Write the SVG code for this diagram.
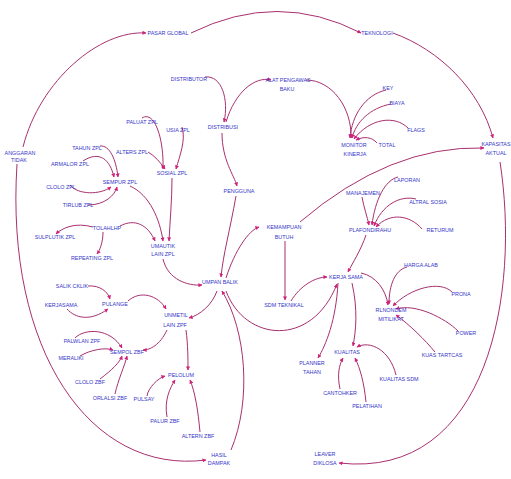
<svg xmlns="http://www.w3.org/2000/svg" width="511" height="479" viewBox="0 0 511 479">
<defs>
<marker id="ah" viewBox="0 0 10 10" refX="9" refY="5" markerWidth="4" markerHeight="4" markerUnits="userSpaceOnUse" orient="auto">
<path d="M0,0 L10,5 L0,10 z" fill="#d0207a"/>
</marker>
</defs>
<style>
.c path{fill:none;stroke:#a8306e;stroke-width:1;marker-end:url(#ah)}
text{font-family:"Liberation Sans",Arial,sans-serif;font-size:5.4px;fill:#3535c8;text-anchor:middle}
</style>
<rect width="511" height="479" fill="#ffffff"/>
<g id="connectors" class="c">
<path d="M23,147 C40,80 100,30 146,33"/>
<path d="M191,33 Q278,-10 361,33"/>
<path d="M393,33 C440,50 480,90 493,138"/>
<path d="M500,162 C520,290 490,480 339,463"/>
<path d="M300,222 Q390,145 484,148"/>
<path d="M17,164 C5,350 90,475 206,460"/>
<path d="M231,450 C252,400 246,330 222,291"/>
<path d="M205,77 C222,75 229,100 224,122"/>
<path d="M226,122 C235,92 255,76 271,80"/>
<path d="M306,80 C332,80 352,108 351,138"/>
<path d="M386,90 C365,95 352,115 350,138"/>
<path d="M391,104 C370,108 356,122 352,138"/>
<path d="M408,128 C395,115 370,118 354,139"/>
<path d="M377,143 C372,137 364,136 356,140"/>
<path d="M222,133 C222,160 234,175 237,186"/>
<path d="M236,196 C230,230 223,255 221,277"/>
<path d="M226,278 C235,250 249,230 259,227"/>
<path d="M163,259 C168,280 188,286 202,285"/>
<path d="M217,291 C212,305 200,315 189,318"/>
<path d="M226,291 C245,342 312,348 337,284"/>
<path d="M285,241 L285,300"/>
<path d="M291,301 C300,286 315,277 327,277"/>
<path d="M366,235 C361,250 352,264 348,272"/>
<path d="M398,177 C385,180 375,200 372,225"/>
<path d="M362,197 C364,208 367,216 369,225"/>
<path d="M416,199 C400,195 382,205 374,226"/>
<path d="M422,229 C410,215 390,212 376,227"/>
<path d="M361,273 C376,276 386,290 388,305"/>
<path d="M407,267 C395,270 389,285 389,304"/>
<path d="M452,292 C440,280 410,288 393,306"/>
<path d="M458,331 C445,318 415,303 396,309"/>
<path d="M435,352 C425,340 410,325 396,315"/>
<path d="M338,283 C336,320 326,345 318,358"/>
<path d="M352,283 C358,310 356,330 353,346"/>
<path d="M396,375 C390,350 370,340 357,347"/>
<path d="M340,389 C337,375 339,365 343,358"/>
<path d="M366,402 C364,382 360,368 355,358"/>
<path d="M142,118 C155,110 164,140 163,169"/>
<path d="M182,127 C186,140 180,155 176,169"/>
<path d="M148,152 C155,156 160,162 165,169"/>
<path d="M100,146 C110,145 116,160 118,177"/>
<path d="M83,161 C100,150 110,160 114,177"/>
<path d="M70,185 C78,195 100,195 111,187"/>
<path d="M88,205 C105,205 115,195 117,187"/>
<path d="M130,186 C150,195 160,220 163,241"/>
<path d="M172,178 C172,200 170,220 169,241"/>
<path d="M120,226 C135,218 148,225 155,241"/>
<path d="M93,227 C75,222 62,228 56,234"/>
<path d="M103,232 C103,242 100,250 97,254"/>
<path d="M88,286 C100,285 108,292 110,299"/>
<path d="M67,309 C75,318 90,322 108,309"/>
<path d="M128,301 C140,290 158,295 166,309"/>
<path d="M167,330 C160,345 150,350 143,350"/>
<path d="M186,330 C188,345 188,360 188,370"/>
<path d="M75,338 C85,328 110,328 122,348"/>
<path d="M80,356 C90,350 105,347 113,350"/>
<path d="M100,379 C112,370 120,362 122,356"/>
<path d="M115,394 C118,380 125,365 127,356"/>
<path d="M147,396 C148,388 158,378 165,376"/>
<path d="M167,417 C164,400 170,388 175,380"/>
<path d="M200,432 C198,410 195,392 190,380"/>
</g>
<g id="n1"><text x="168" y="35">PASAR GLOBAL</text></g>
<g id="n2"><text x="377" y="35">TEKNOLOGI</text></g>
<g id="n3"><text x="20" y="155">ANGGARAN</text><text x="19" y="162">TIDAK</text></g>
<g id="n4"><text x="496" y="146">KAPASITAS</text><text x="496" y="155">AKTUAL</text></g>
<g id="n5"><text x="189" y="81">DISTRIBUTOR</text></g>
<g id="n6"><text x="223" y="129">DISTRIBUSI</text></g>
<g id="n7"><text x="288" y="82">ALAT PENGAWAS</text><text x="287" y="91">BAKU</text></g>
<g id="n8"><text x="388" y="90">KEY</text></g>
<g id="n9"><text x="397" y="105">BIAYA</text></g>
<g id="n10"><text x="416" y="132">FLAGS</text></g>
<g id="n11"><text x="387" y="147">TOTAL</text></g>
<g id="n12"><text x="354" y="147">MONITOR</text><text x="355" y="156">KINERJA</text></g>
<g id="n13"><text x="142" y="124">PALUAT ZPL</text></g>
<g id="n14"><text x="178" y="132">USIA ZPL</text></g>
<g id="n15"><text x="132" y="154">ALTERS ZPL</text></g>
<g id="n16"><text x="87" y="150">TAHUN ZPL</text></g>
<g id="n17"><text x="70" y="166">ARMALOR ZPL</text></g>
<g id="n18"><text x="61" y="189">CLOLO ZPL</text></g>
<g id="n19"><text x="78" y="207">TIRLUB ZPL</text></g>
<g id="n20"><text x="120" y="184">SEMPUR ZPL</text></g>
<g id="n21"><text x="172" y="175">SOSIAL ZPL</text></g>
<g id="n22"><text x="107" y="230">TOLAHLHP</text></g>
<g id="n23"><text x="55" y="239">SULPLUTIK ZPL</text></g>
<g id="n24"><text x="92" y="260">REPEATING ZPL</text></g>
<g id="n25"><text x="163" y="248">UMAUTIK</text><text x="163" y="256">LAIN ZPL</text></g>
<g id="n26"><text x="239" y="193">PENGGUNA</text></g>
<g id="n27"><text x="220" y="284">UMPAN BALIK</text></g>
<g id="n28"><text x="72" y="288">SALIK CKLIK</text></g>
<g id="n29"><text x="115" y="306">PULANGE</text></g>
<g id="n30"><text x="61" y="307">KERJASAMA</text></g>
<g id="n31"><text x="176" y="317">UNMETIL</text><text x="175" y="327">LAIN ZPF</text></g>
<g id="n32"><text x="82" y="343">PALWLAN ZPF</text></g>
<g id="n33"><text x="71" y="360">MERALIKI</text></g>
<g id="n34"><text x="127" y="354">SEMPOL ZBF</text></g>
<g id="n35"><text x="90" y="384">CLOLO ZBF</text></g>
<g id="n36"><text x="110" y="400">ORLALSI ZBF</text></g>
<g id="n37"><text x="144" y="401">PULSAY</text></g>
<g id="n38"><text x="181" y="377">PELOLUM</text></g>
<g id="n39"><text x="165" y="423">PALUR ZBF</text></g>
<g id="n40"><text x="198" y="438">ALTERN ZBF</text></g>
<g id="n41"><text x="219" y="457">HASIL</text><text x="219" y="465">DAMPAK</text></g>
<g id="n42"><text x="407" y="182">LAPORAN</text></g>
<g id="n43"><text x="363" y="195">MANAJEMEN</text></g>
<g id="n44"><text x="428" y="204">ALTRAL SOSIA</text></g>
<g id="n45"><text x="284" y="229">KEMAMPUAN</text><text x="284" y="239">BUTUH</text></g>
<g id="n46"><text x="370" y="232">PLAFONDIRAHU</text></g>
<g id="n47"><text x="440" y="232">RETURUM</text></g>
<g id="n48"><text x="346" y="279">KERJA SAMA</text></g>
<g id="n49"><text x="421" y="267">HARGA ALAB</text></g>
<g id="n50"><text x="461" y="296">PRONA</text></g>
<g id="n51"><text x="284" y="307">SDM TEKNIKAL</text></g>
<g id="n52"><text x="391" y="312">RLNONDEM</text><text x="391" y="321">MITILIKAT</text></g>
<g id="n53"><text x="466" y="335">POWER</text></g>
<g id="n54"><text x="442" y="357">KUAS TARTCAS</text></g>
<g id="n55"><text x="347" y="354">KUALITAS</text></g>
<g id="n56"><text x="312" y="365">PLANNER</text><text x="312" y="374">TAHAN</text></g>
<g id="n57"><text x="399" y="381">KUALITAS SDM</text></g>
<g id="n58"><text x="340" y="395">CANTOHKER</text></g>
<g id="n59"><text x="367" y="408">PELATIHAN</text></g>
<g id="n60"><text x="325" y="456">LEAVER</text><text x="325" y="465">DIKLOSA</text></g>
</svg>
